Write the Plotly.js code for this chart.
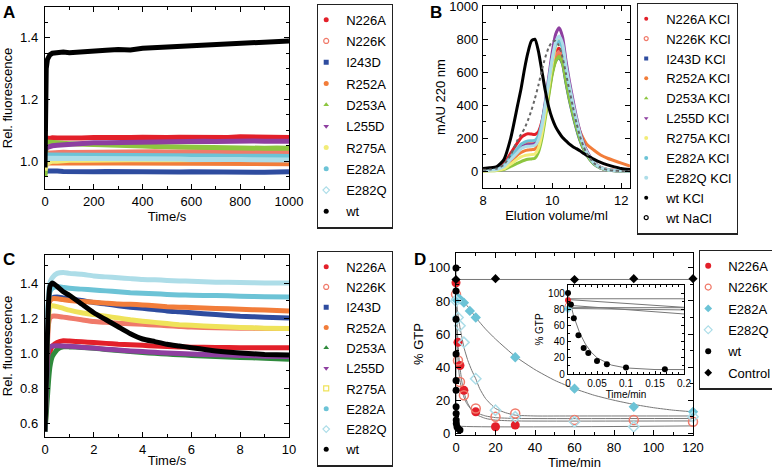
<!DOCTYPE html>
<html><head><meta charset="utf-8">
<script src="https://cdn.plot.ly/plotly-3.0.1.min.js"></script>
<style>html,body{margin:0;padding:0;background:#fff}#chart{width:772px;height:472px}</style>
</head><body><div id="chart"></div>
<script>
// ---------------- Panel A: fluorescence, 0-1000 s ----------------
const A_names = ['N226A','N226K','I243D','R252A','D253A','L255D','R275A','E282A','E282Q','wt'];
const A_time  = [0,2,5,10,20,30,50,75,100,150,200,250,300,350,400,450,500,550,600,650,700,750,800,850,900,950,1000];
const A_N226A = [1.07,1.072,1.074,1.075,1.074,1.076,1.075,1.074,1.076,1.075,1.077,1.076,1.075,1.077,1.078,1.076,1.077,1.078,1.077,1.076,1.078,1.077,1.079,1.078,1.077,1.078,1.077];
const A_N226K = [1.015,1.02,1.024,1.026,1.027,1.028,1.028,1.029,1.028,1.029,1.03,1.029,1.03,1.031,1.03,1.031,1.03,1.031,1.032,1.031,1.03,1.032,1.031,1.03,1.031,1.03,1.031];
const A_I243D = [0.965,0.966,0.967,0.968,0.968,0.967,0.968,0.967,0.966,0.967,0.966,0.967,0.966,0.965,0.966,0.967,0.966,0.965,0.966,0.965,0.964,0.965,0.966,0.965,0.964,0.965,0.966];
const A_R252A = [0.99,0.992,0.993,0.994,0.995,0.995,0.996,0.995,0.996,0.995,0.996,0.995,0.994,0.995,0.994,0.995,0.994,0.993,0.994,0.993,0.994,0.993,0.992,0.993,0.992,0.993,0.992];
const A_D253A = [0.95,1.05,1.06,1.062,1.062,1.061,1.06,1.058,1.057,1.055,1.053,1.052,1.05,1.05,1.049,1.048,1.047,1.046,1.046,1.045,1.044,1.045,1.043,1.044,1.042,1.043,1.042];
const A_L255D = [1.035,1.04,1.042,1.045,1.048,1.05,1.052,1.054,1.056,1.058,1.06,1.06,1.061,1.062,1.063,1.062,1.064,1.063,1.064,1.065,1.064,1.066,1.065,1.066,1.065,1.066,1.065];
const A_R275A = [0.97,0.985,0.99,0.995,0.998,1.0,1.0,1.002,1.003,1.003,1.004,1.004,1.005,1.005,1.005,1.006,1.005,1.006,1.006,1.006,1.005,1.006,1.006,1.005,1.006,1.005,1.006];
const A_E282A = [1.01,1.015,1.018,1.02,1.02,1.021,1.02,1.021,1.02,1.019,1.02,1.019,1.02,1.02,1.019,1.018,1.019,1.018,1.017,1.018,1.017,1.016,1.017,1.016,1.015,1.016,1.015];
const A_E282Q = [1.0,1.005,1.008,1.01,1.01,1.01,1.011,1.01,1.009,1.01,1.009,1.01,1.008,1.009,1.008,1.007,1.008,1.007,1.006,1.007,1.006,1.005,1.006,1.005,1.004,1.005,1.004];
const A_wt    = [0.98,1.22,1.30,1.33,1.345,1.35,1.352,1.354,1.352,1.356,1.358,1.36,1.362,1.361,1.366,1.368,1.37,1.372,1.374,1.376,1.38,1.378,1.384,1.386,1.385,1.388,1.39];

// ---------------- Panel B: elution profiles ----------------
const B_names = ['N226A KCl','N226K KCl','I243D KCl','R252A KCl','D253A KCl','L255D KCl','R275A KCl','E282A KCl','E282Q KCl','wt KCl','wt NaCl'];
const B_vol   = [8.0,8.2,8.4,8.6,8.8,9.0,9.1,9.2,9.3,9.4,9.5,9.6,9.7,9.8,9.9,10.0,10.1,10.2,10.3,10.4,10.5,10.6,10.7,10.8,10.9,11.0,11.2,11.4,11.6,11.8,12.0,12.25];
const B_N226A = [15,18,25,45,110,175,205,220,228,226,224,240,300,400,520,640,720,745,700,580,470,375,285,210,150,110,55,25,12,7,5,4];
const B_N226K = [10,12,18,35,85,135,158,170,176,175,176,200,270,380,500,620,700,725,680,560,455,360,275,200,145,105,50,22,10,6,4,3];
const B_I243D = [8,10,15,30,75,120,142,155,160,160,162,190,255,360,480,600,670,690,650,535,430,340,260,190,138,98,46,20,9,5,3,2];
const B_R252A = [5,8,12,25,60,100,115,125,130,132,135,165,235,345,470,595,670,705,670,565,470,385,310,245,200,165,130,100,80,65,50,32];
const B_D253A = [3,4,6,12,30,50,60,68,74,76,80,115,195,320,455,585,665,695,655,540,435,345,265,195,140,100,46,20,9,5,3,2];
const B_L255D = [6,8,12,28,75,120,145,156,160,162,168,205,290,420,570,720,830,870,815,670,545,435,330,245,175,125,58,25,11,6,4,3];
const B_R275A = [4,5,8,16,45,75,88,96,100,102,106,140,225,355,505,650,755,795,750,620,505,400,305,225,160,115,53,23,10,6,4,3];
const B_E282A = [8,10,16,35,90,140,165,178,185,186,188,215,290,410,550,680,765,790,745,615,500,395,300,220,158,113,52,23,10,6,4,3];
const B_E282Q = [6,8,12,28,72,115,138,148,152,154,158,190,270,395,540,680,785,820,775,640,520,412,315,232,165,118,55,24,10,6,4,3];
const B_wtKCl = [18,22,30,70,200,400,500,620,720,790,800,730,610,490,390,320,270,235,205,185,165,150,138,125,110,98,75,55,40,28,18,12];
const B_wtNaCl= [10,12,18,40,100,190,225,260,310,370,440,520,610,690,750,785,790,760,690,590,490,390,295,215,155,110,52,23,10,5,3,2];

// ---------------- Panel C: fluorescence, 0-10 s ----------------
const C_names = ['N226A','N226K','I243D','R252A','D253A','L255D','R275A','E282A','E282Q','wt'];
const C_time  = [0,0.05,0.1,0.15,0.2,0.3,0.5,0.75,1,1.5,2,2.5,3,3.5,4,4.5,5,5.5,6,7,8,9,10];
const C_N226A = [0.55,0.7,0.85,0.95,1.0,1.04,1.06,1.07,1.068,1.064,1.06,1.055,1.05,1.047,1.044,1.04,1.037,1.035,1.033,1.032,1.03,1.03,1.03];
const C_N226K = [0.55,0.85,1.05,1.17,1.2,1.21,1.21,1.205,1.2,1.19,1.18,1.175,1.17,1.167,1.164,1.16,1.156,1.152,1.148,1.145,1.142,1.14,1.14];
const C_I243D = [0.55,0.9,1.15,1.27,1.3,1.315,1.32,1.315,1.31,1.3,1.288,1.28,1.27,1.262,1.255,1.248,1.24,1.235,1.23,1.22,1.21,1.205,1.2];
const C_R252A = [0.55,0.9,1.15,1.27,1.3,1.31,1.31,1.305,1.3,1.295,1.29,1.285,1.28,1.278,1.275,1.27,1.265,1.262,1.26,1.255,1.25,1.245,1.24];
const C_D253A = [0.55,0.65,0.75,0.85,0.92,0.98,1.02,1.035,1.035,1.032,1.027,1.02,1.014,1.008,1.003,0.998,0.994,0.99,0.986,0.98,0.975,0.97,0.965];
const C_L255D = [0.55,0.75,0.95,1.02,1.035,1.04,1.042,1.04,1.038,1.033,1.028,1.022,1.017,1.012,1.008,1.004,1.0,0.997,0.994,0.99,0.986,0.982,0.98];
const C_R275A = [0.55,0.85,1.1,1.22,1.26,1.27,1.265,1.255,1.245,1.23,1.22,1.21,1.2,1.19,1.182,1.175,1.168,1.162,1.158,1.152,1.146,1.142,1.14];
const C_E282A = [0.55,0.9,1.2,1.3,1.35,1.37,1.38,1.375,1.37,1.365,1.36,1.355,1.35,1.345,1.342,1.338,1.335,1.332,1.33,1.328,1.325,1.322,1.32];
const C_E282Q = [0.55,0.9,1.2,1.35,1.4,1.43,1.455,1.46,1.455,1.45,1.44,1.435,1.43,1.425,1.42,1.418,1.415,1.412,1.41,1.405,1.403,1.40,1.40];
const C_wt    = [0.55,0.8,1.1,1.3,1.38,1.40,1.38,1.35,1.33,1.28,1.23,1.19,1.15,1.11,1.08,1.065,1.05,1.04,1.03,1.012,1.0,0.992,0.988];

// ---------------- Panel D: % GTP vs time (min) ----------------
const D_names = ['N226A','N226K','E282A','E282Q','wt','Control'];
const D_N226A_t = [0,1,2,4,10,20,30];
const D_N226A   = [91,55,41,26,13,4,5];
const D_N226K_t = [0,1,2,4,10,20,30,60,90,120];
const D_N226K   = [84,44,31,23,15,10,12,8,8,7];
const D_E282A_t = [0,1,2,4,7,10,30,60,90,120];
const D_E282A   = [81,82,81,79,74,70,46,27,16,13];
const D_E282Q_t = [0,1,2,4,10,20,30,60,90,120];
const D_E282Q   = [80,70,65,55,33,14,10,7,4,10];
const D_wt_t    = [0,0.005,0.01,0.018,0.027,0.035,0.05,0.067,0.1,0.167,0.5,1,2];
const D_wt      = [100,86,69,48,32,26,16,12,8,6,4,3,2];
const D_ctrl_t  = [0,20,60,90,120];
const D_ctrl    = [93,93.5,93,93.5,93.5];
// fitted curves
const F_ctrl_t  = [0,120];
const F_ctrl    = [93,93];
const F_wt_t    = [0,0.005,0.01,0.02,0.03,0.04,0.05,0.075,0.1,0.15,0.2,0.5,120];
const F_wt      = [99,84,71,51,37,27,20,11,7.5,5.5,5,4.5,4.5];
const F_N226A_t = [0,0.5,1,1.5,2,3,4,5,6,8,10,15,20,30,120];
const F_N226A   = [92,68,55,46,40,31,25,21,18,14,11.5,9,8,7.5,7.5];
const F_N226K_t = [0,0.5,1,1.5,2,3,4,5,6,8,10,15,20,30,120];
const F_N226K   = [85,58,45,37,32,26,22,19,17,14,12.5,10.5,9.5,9,9];
const F_E282A_t = [0,2,4,7,10,15,20,30,40,50,60,70,80,90,100,110,120];
const F_E282A   = [82,81.5,79.5,75,70,63,57,46.5,38.5,32,27,23,20,17.5,15.5,14,13];
const F_E282Q_t = [0,1,2,3,4,6,8,10,12,15,20,25,30,40,60,120];
const F_E282Q   = [81,72,64,58,52,44,38,33,27,21,15,12.5,11,10.5,10.5,10.5];

// ---------------- styling ----------------
const FONT = 'Liberation Sans, Arial, Helvetica, sans-serif';
const W = 772, H = 472;
const px = v => v / W, py = v => 1 - v / H;
const COL = {
  N226A:'#e3202a', N226K:'#f07a6a', I243D:'#2e4c9f', R252A:'#f27d3a', D253A:'#8dc63f', D253A_C:'#2f8a3c',
  L255D:'#8e3fa0', R275A:'#f2ec78', E282A:'#6cc3d6', E282Q:'#addde8', wt:'#000000', wtNaCl:'#555555'
};
const SYM = {
  N226A:'circle', N226K:'circle-open', I243D:'square', R252A:'circle', D253A:'triangle-up',
  L255D:'triangle-down', R275A:'circle', E282A:'circle', E282Q:'diamond-open', wt:'circle'
};

function ax(dom, rng, dtick, mdtick, anchor, extra) {
  return Object.assign({
    domain: dom, range: rng, anchor: anchor, dtick: dtick, tick0: 0,
    showline: true, linecolor: '#000', linewidth: 1.2, mirror: 'ticks',
    ticks: 'inside', ticklen: 5, tickwidth: 1, tickcolor: '#000', ticklabeloverflow: 'allow',
    minor: {dtick: mdtick, tick0: 0, ticks: 'inside', ticklen: 3, tickwidth: 1, tickcolor: '#000', showgrid: false},
    showgrid: false, zeroline: false, fixedrange: true,
    tickfont: {family: FONT, size: 13, color: '#000'}
  }, extra || {});
}
function ttl(text, standoff, size) {
  return {text: text, standoff: standoff, font: {family: FONT, size: size || 13, color: '#000'}};
}
function leg(x, y, gap) {
  return {x: px(x), y: py(y), xanchor: 'left', yanchor: 'top', bgcolor: '#fff',
    bordercolor: '#222', borderwidth: 1.2, tracegroupgap: gap, itemwidth: 30, indentation: -12,
    font: {family: FONT, size: 13, color: '#000'}, traceorder: 'grouped'};
}

const traces = [];
function lineTrace(x, y, color, width, xa, ya, legendId, opts) {
  traces.push(Object.assign({type: 'scatter', mode: 'lines', x: x, y: y, xaxis: xa, yaxis: ya, legend: legendId,
    line: {color: color, width: width, shape: 'spline', smoothing: 0.6}, showlegend: false, hoverinfo: 'skip'}, opts || {}));
}
function legendEntry(name, symbol, color, xa, ya, legendId, size) {
  const open = symbol.indexOf('open') >= 0;
  traces.push({type: 'scatter', mode: 'markers', x: [null], y: [null], xaxis: xa, yaxis: ya, name: name,
    legend: legendId, legendgroup: legendId + name, showlegend: true, hoverinfo: 'skip',
    marker: {symbol: symbol, color: color, size: size || 5, line: {color: color, width: open ? 1.2 : 0}}});
}

// Panel A
const A_series = [A_N226A, A_N226K, A_I243D, A_R252A, A_D253A, A_L255D, A_R275A, A_E282A, A_E282Q, A_wt];
A_names.forEach((n, i) => {
  lineTrace(A_time, A_series[i], COL[n], 5, 'x', 'y', 'legend', {line: {color: COL[n], width: 5, shape: 'linear'}});
});
A_names.forEach(n => legendEntry(n, SYM[n], COL[n], 'x', 'y', 'legend'));

// Panel B
const B_series = [B_N226A, B_N226K, B_I243D, B_R252A, B_D253A, B_L255D, B_R275A, B_E282A, B_E282Q, B_wtKCl, B_wtNaCl];
const B_keys = ['N226A','N226K','I243D','R252A','D253A','L255D','R275A','E282A','E282Q','wt','wtNaCl'];
B_names.forEach((n, i) => {
  const k = B_keys[i];
  lineTrace(B_vol, B_series[i], COL[k], 3, 'x2', 'y2', 'legend2', k === 'wtNaCl' ? {line: {color: '#666', width: 2, dash: 'dot', shape: 'spline', smoothing: 0.6}} : null);
});
const B_sym = ['circle','circle-open','square','circle','triangle-up','triangle-down','circle','circle','circle','circle','circle-open'];
B_names.forEach((n, i) => legendEntry(n, B_sym[i], B_keys[i] === 'wtNaCl' ? '#000' : COL[B_keys[i]], 'x2', 'y2', 'legend2', 4));

// Panel C
const C_series = [C_N226A, C_N226K, C_I243D, C_R252A, C_D253A, C_L255D, C_R275A, C_E282A, C_E282Q, C_wt];
const C_col = n => n === 'D253A' ? COL.D253A_C : (n === 'R275A' ? '#efe35a' : COL[n]);
C_names.forEach((n, i) => {
  lineTrace(C_time, C_series[i], C_col(n), 5, 'x3', 'y3', 'legend3', {line: {color: C_col(n), width: 5, shape: 'spline', smoothing: 0.5}});
});
const C_sym = ['circle','circle-open','square','circle','triangle-up','triangle-down','square-open','circle','diamond-open','circle'];
C_names.forEach((n, i) => legendEntry(n, C_sym[i], C_col(n), 'x3', 'y3', 'legend3'));

// Panel D main: fits first, then points
const GREY = '#777';
[[F_ctrl_t, F_ctrl], [F_wt_t, F_wt], [F_N226A_t, F_N226A], [F_N226K_t, F_N226K], [F_E282A_t, F_E282A], [F_E282Q_t, F_E282Q]]
  .forEach(f => traces.push({type: 'scatter', mode: 'lines', x: f[0], y: f[1], xaxis: 'x4', yaxis: 'y4', legend: 'legend4',
    line: {color: GREY, width: 1, shape: 'spline', smoothing: 0.5}, showlegend: false, hoverinfo: 'skip'}));
const D_pts = [
  [D_N226A_t, D_N226A, 'circle', COL.N226A, 9],
  [D_N226K_t, D_N226K, 'circle-open', COL.N226K, 9],
  [D_E282A_t, D_E282A, 'diamond', COL.E282A, 8],
  [D_E282Q_t, D_E282Q, 'diamond-open', COL.E282Q, 8],
  [D_wt_t, D_wt, 'circle', '#000', 7],
  [D_ctrl_t, D_ctrl, 'diamond', '#000', 7]
];
D_pts.forEach(p => {
  const open = p[2].indexOf('open') >= 0;
  traces.push({type: 'scatter', mode: 'markers', x: p[0], y: p[1], xaxis: 'x4', yaxis: 'y4', cliponaxis: false, legend: 'legend4',
    marker: {symbol: p[2], color: p[3], size: p[4], line: {color: p[3], width: open ? 1.5 : 0}},
    showlegend: false, hoverinfo: 'skip'});
});
D_pts.forEach((p, i) => legendEntry(D_names[i], p[2], p[3], 'x4', 'y4', 'legend4', 6));

// Panel D inset (first 0.2 min)
[[F_ctrl_t, F_ctrl], [F_N226A_t, F_N226A], [F_N226K_t, F_N226K], [F_E282A_t, F_E282A], [F_E282Q_t, F_E282Q], [F_wt_t, F_wt]]
  .forEach(f => traces.push({type: 'scatter', mode: 'lines', x: f[0], y: f[1], xaxis: 'x5', yaxis: 'y5', legend: 'legend4',
    line: {color: GREY, width: 1, shape: 'linear'}, showlegend: false, hoverinfo: 'skip'}));
D_pts.slice(0, 5).forEach(p => {
  const xs = [], ys = [];
  p[0].forEach((t, j) => { if (t <= 0.2) { xs.push(t); ys.push(p[1][j]); } });
  const open = p[2].indexOf('open') >= 0;
  traces.push({type: 'scatter', mode: 'markers', x: xs, y: ys, xaxis: 'x5', yaxis: 'y5', cliponaxis: false, legend: 'legend4',
    marker: {symbol: p[2], color: p[3], size: 6, line: {color: p[3], width: open ? 1 : 0}},
    showlegend: false, hoverinfo: 'skip'});
});

const small = {family: FONT, size: 10, color: '#000'};
const layout = {
  width: W, height: H, margin: {l: 0, r: 0, t: 0, b: 0, autoexpand: false},
  paper_bgcolor: '#fff', plot_bgcolor: '#fff', showlegend: true,
  font: {family: FONT, size: 13, color: '#000'},
  xaxis:  ax([px(45), px(289)], [0, 1000], 200, 100, 'y', {title: ttl('Time/s', 0)}),
  yaxis:  ax([py(189), py(7)], [0.91, 1.5], 0.2, 0.05, 'x', {tickformat: '.1f', ticklabelstandoff: 3, title: ttl('Rel. fluorescence', 4)}),
  xaxis2: ax([px(483), px(630)], [8, 12.25], 2, 0.5, 'y2', {title: ttl('Elution volume/ml', 1)}),
  yaxis2: ax([py(188), py(6)], [-100, 1001], 200, 100, 'x2', {zeroline: true, zerolinecolor: '#999', zerolinewidth: 1, ticklabelstandoff: 1, title: ttl('mAU 220 nm', 0)}),
  xaxis3: ax([px(45), px(289)], [0, 10], 2, 1, 'y3', {title: ttl('Time/s', 0)}),
  yaxis3: ax([py(437), py(255)], [0.52, 1.56], 0.2, 0.1, 'x3', {tickformat: '.1f', ticklabelstandoff: 3, title: ttl('Rel. fluorescence', 4)}),
  xaxis4: ax([px(456), px(693)], [0, 120], 20, 10, 'y4', {title: ttl('Time/min', 2)}),
  yaxis4: ax([py(435), py(253)], [-1, 109], 20, 10, 'x4', {ticklabelstandoff: 2, title: ttl('% GTP', 2)}),
  xaxis5: ax([px(568), px(684)], [0, 0.2], 0.05, 0.01, 'y5', {ticklen: 3, minor: {dtick: 0.01, tick0: 0, ticks: 'inside', ticklen: 2, tickcolor: '#000'}, tickfont: small, title: ttl('Time/min', 0, 10)}),
  yaxis5: ax([py(374), py(285)], [0, 110], 20, 10, 'x5', {ticklen: 3, minor: {dtick: 10, tick0: 0, ticks: 'inside', ticklen: 2, tickcolor: '#000'}, tickfont: small, title: ttl('% GTP', 2, 10)}),
  legend:  leg(317, 3.5, 1.4),
  legend2: leg(637, 2.5, 0),
  legend3: leg(317, 250.5, 0.4),
  legend4: leg(699, 249.5, 1.5),
  annotations: [
    ['A', 1, 1], ['B', 428, 1], ['C', 1, 248], ['D', 412, 248]
  ].map(a => ({text: '<b>' + a[0] + '</b>', xref: 'paper', yref: 'paper', x: px(a[1]), y: py(a[2]),
    xanchor: 'left', yanchor: 'top', showarrow: false, font: {family: FONT, size: 17, color: '#000'}}))
};

Plotly.newPlot('chart', traces, layout, {staticPlot: true, displayModeBar: false});
</script>
</body></html>
